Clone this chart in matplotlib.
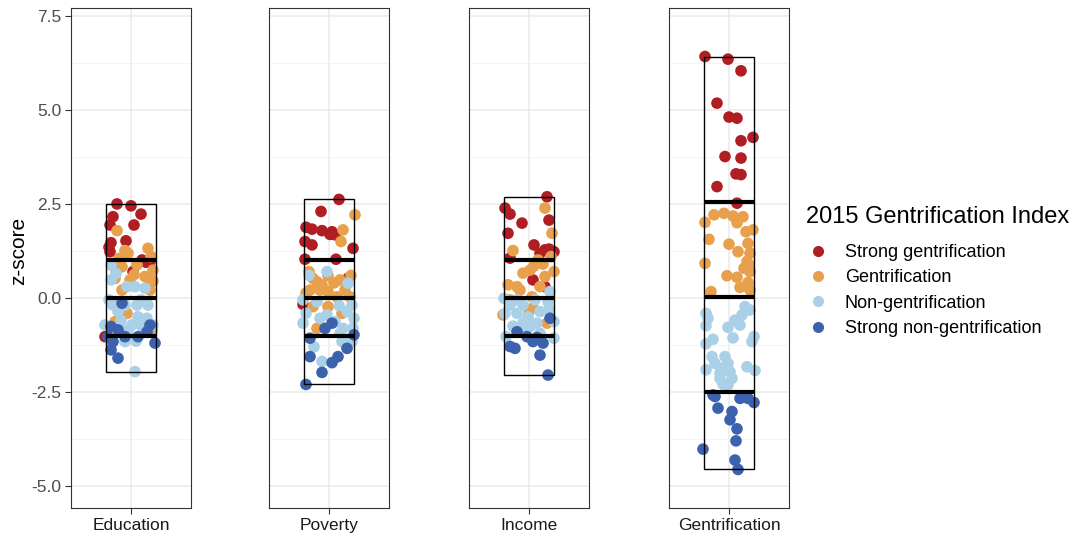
import matplotlib
matplotlib.use("Agg")
import matplotlib.pyplot as plt
from matplotlib.lines import Line2D
from matplotlib.patches import Rectangle

plt.rcParams['font.family'] = ['Liberation Sans', 'DejaVu Sans']

# ---------------- data: (jitter offset, z-score) ----------------
panels = ["Education", "Poverty", "Income", "Gentrification"]
groups = ["Strong gentrification", "Gentrification", "Non-gentrification", "Strong non-gentrification"]
colors = ["#B01E23", "#E8A04C", "#A9D0E6", "#3D62AD"]
legend_title = "2015 Gentrification Index"

edu_sg = [(-0.14, 2.50), (0.00, 2.45), (0.10, 2.23), (-0.18, 2.16), (-0.21, 1.94), (0.03, 1.94),
          (-0.05, 1.52), (-0.20, 1.47), (-0.21, 1.23), (0.11, 1.01), (0.19, 0.97), (0.02, 0.70),
          (-0.26, -1.03), (-0.22, 1.35), (0.15, 0.95)]
edu_g = [(-0.14, 1.79), (0.17, 1.32), (-0.06, 1.26), (-0.03, 1.19), (-0.17, 0.83), (-0.09, 0.83),
         (0.22, 0.74), (0.06, 0.88), (-0.16, 0.52), (-0.09, 0.21), (0.17, 0.30), (0.14, 0.57),
         (-0.01, 0.48), (0.19, 0.21), (-0.04, -0.41), (-0.16, -0.63), (0.21, -0.85),
         (0.20, 1.10), (-0.12, 1.05), (0.03, 0.62), (0.22, 0.45)]
edu_ng = [(-0.20, 0.88), (-0.20, 0.48), (0.04, 0.30), (-0.04, 0.30), (0.14, 0.26), (-0.18, -0.19),
          (-0.06, -0.19), (0.06, -0.19), (0.17, -0.19), (-0.13, -0.36), (0.07, -0.50), (0.16, -0.54),
          (-0.26, -0.72), (0.01, -0.72), (0.11, -0.76), (-0.09, -0.85), (-0.03, -0.85), (-0.20, -1.20),
          (-0.06, -1.16), (0.04, -1.96), (0.22, -0.72), (-0.22, -0.05), (0.10, -0.05), (-0.10, -0.60),
          (0.05, -1.15), (-0.15, 0.65)]
edu_sn = [(-0.09, -0.14), (-0.20, -0.76), (-0.13, -0.85), (0.19, -0.72), (-0.23, -1.03), (-0.18, -1.16),
          (-0.06, -1.03), (0.07, -1.03), (0.24, -1.20), (-0.20, -1.38), (-0.13, -1.60), (0.16, -0.90)]

pov_sg = [(0.10, 2.62), (-0.08, 2.30), (-0.23, 1.88), (-0.17, 1.83), (-0.07, 1.79), (0.03, 1.76),
          (0.01, 1.69), (0.06, 1.68), (-0.24, 1.50), (-0.17, 1.41), (0.24, 1.32), (-0.24, 1.03),
          (0.07, 1.03), (0.19, 0.52), (-0.26, -0.17)]
pov_g = [(0.26, 2.21), (0.14, 1.81), (0.12, 1.50), (-0.01, 0.59), (-0.16, 0.52), (-0.12, 0.43),
         (0.11, 0.48), (-0.19, 0.21), (-0.09, 0.21), (-0.01, 0.17), (0.16, 0.21), (0.21, 0.03),
         (0.08, 0.03), (-0.23, 0.13), (-0.16, -0.23), (-0.01, -0.23), (0.13, -0.41), (-0.12, -0.81),
         (-0.07, 0.35), (0.22, 0.60), (-0.20, 0.70), (0.05, 0.40)]
pov_ng = [(-0.02, 0.70), (0.19, 0.39), (-0.26, -0.05), (0.23, -0.19), (-0.23, -0.41), (0.18, -0.36),
          (0.25, -0.54), (-0.26, -0.67), (0.06, -0.63), (0.14, -0.81), (-0.09, -0.54), (0.13, -1.16),
          (0.23, -1.16), (-0.07, -1.69), (0.11, -0.94), (-0.02, -0.45), (-0.12, -0.10), (0.10, -0.20),
          (-0.20, 0.60), (0.24, -0.80), (-0.15, -1.30)]
pov_sn = [(-0.19, -1.07), (-0.04, -0.81), (0.03, -0.67), (0.25, -0.98), (0.18, -1.34), (-0.19, -1.56),
          (0.09, -1.56), (0.03, -1.72), (-0.07, -1.98), (-0.23, -2.30)]

inc_sg = [(0.18, 2.69), (-0.24, 2.39), (-0.19, 2.23), (-0.07, 1.99), (0.20, 2.07), (-0.21, 1.72),
          (0.05, 1.41), (0.16, 1.28), (0.25, 1.23), (-0.19, 1.06), (0.11, 1.19), (0.04, 0.48),
          (0.16, 0.30), (0.20, 1.30)]
inc_g = [(0.16, 2.39), (0.23, 1.72), (-0.16, 1.26), (0.09, 1.01), (0.01, 0.74), (0.25, 0.70),
         (-0.21, 0.35), (-0.09, 0.21), (0.11, 0.30), (0.03, 0.03), (-0.19, -0.05), (0.04, -0.27),
         (-0.26, -0.45), (0.18, -0.67), (0.16, 0.57), (-0.06, 0.66), (0.14, 0.90), (0.22, 1.10),
         (0.05, 0.85), (-0.12, 0.30), (0.00, -0.35)]
inc_ng = [(-0.25, -0.01), (-0.19, -0.19), (-0.06, -0.19), (0.21, 0.17), (0.19, -0.10), (-0.12, -0.41),
          (-0.01, -0.50), (0.11, -0.36), (-0.24, -0.41), (-0.06, -0.67), (0.08, -0.67), (0.25, -0.63),
          (-0.23, -1.03), (0.25, -1.07), (0.11, -0.94), (0.01, -0.76), (-0.12, -0.05), (0.06, -0.05),
          (-0.16, -0.75), (0.20, -0.30), (-0.03, -0.90)]
inc_sn = [(0.21, -0.54), (-0.12, -0.90), (-0.02, -1.03), (0.04, -1.16), (0.14, -1.20), (-0.14, -1.34),
          (-0.19, -1.29), (0.11, -1.52), (0.19, -2.05), (0.08, -1.05)]

gen_sg = [(-0.24, 6.42), (-0.01, 6.35), (0.12, 6.04), (-0.12, 5.18), (0.00, 4.81), (0.08, 4.78),
          (0.24, 4.27), (0.12, 4.18), (-0.04, 3.76), (0.12, 3.72), (0.07, 3.30), (0.12, 3.28),
          (-0.12, 2.96), (0.08, 2.52)]
gen_g = [(-0.24, 2.01), (-0.15, 2.21), (-0.05, 2.25), (0.04, 2.18), (0.14, 2.16), (0.08, 2.00),
         (0.17, 1.76), (0.24, 1.81), (-0.20, 1.56), (0.00, 1.43), (0.09, 1.23), (0.19, 1.45),
         (0.21, 1.19), (-0.24, 0.92), (0.18, 0.97), (0.15, 0.79), (-0.02, 0.59), (0.08, 0.55),
         (0.21, 0.70), (0.19, 0.41), (0.11, 0.28), (-0.18, 0.17), (0.21, 0.21), (0.20, 0.88)]
gen_ng = [(-0.23, -0.41), (-0.21, -0.54), (-0.23, -0.74), (0.16, -0.23), (0.21, -0.32), (0.13, -0.45),
          (0.06, -0.59), (0.11, -0.72), (-0.01, -0.78), (0.04, -1.06), (0.25, -1.03), (0.23, -1.16),
          (-0.16, -1.10), (-0.23, -1.22), (-0.17, -1.56), (-0.04, -1.56), (-0.01, -1.74), (-0.14, -1.74),
          (-0.23, -1.91), (-0.07, -1.87), (0.01, -1.96), (0.18, -1.83), (0.26, -1.93), (-0.09, -2.14),
          (0.03, -2.14), (-0.06, -2.29), (-0.01, -2.31), (-0.09, -2.00)]
gen_sn = [(-0.16, -2.58), (0.11, -2.67), (0.19, -2.67), (0.25, -2.78), (-0.11, -2.93), (0.03, -3.02),
          (0.01, -3.24), (0.08, -3.48), (0.07, -3.80), (-0.26, -4.02), (0.06, -4.31), (0.09, -4.56),
          (-0.14, -2.62)]

panel_points = [
    [edu_sg, edu_g, edu_ng, edu_sn],
    [pov_sg, pov_g, pov_ng, pov_sn],
    [inc_sg, inc_g, inc_ng, inc_sn],
    [gen_sg, gen_g, gen_ng, gen_sn],
]
cutoffs = [[-1.0, 0.0, 1.0], [-1.0, 0.0, 1.0], [-1.0, 0.0, 1.0], [-2.49, 0.03, 2.55]]

y_ticks = [-5.0, -2.5, 0.0, 2.5, 5.0, 7.5]

# ---------------- figure ----------------
W, H = 1084, 537
fig = plt.figure(figsize=(W / 100, H / 100), dpi=100)
fig.patch.set_facecolor("white")

panel_left_px = [71, 269, 469, 669]
panel_w_px = 120
top_px, bottom_px = 8, 508

half = 0.25
for i, name in enumerate(panels):
    ax = fig.add_axes([panel_left_px[i] / W, 1 - bottom_px / H, panel_w_px / W, (bottom_px - top_px) / H])
    ax.set_xlim(-0.6, 0.6)
    ax.set_ylim(-5.585, 7.71)
    ax.set_yticks(y_ticks)
    ax.set_yticks([-3.75, -1.25, 1.25, 3.75, 6.25], minor=True)
    ax.set_xticks([0])
    ax.set_xticklabels([name], fontsize=12.5, color="#1A1A1A")
    ax.grid(True, which="major", color="#EBEBEB", linewidth=1.1, zorder=0)
    ax.grid(True, which="minor", axis="y", color="#F2F2F2", linewidth=0.6, zorder=0)
    ax.set_axisbelow(True)
    for sp in ax.spines.values():
        sp.set_color("#333333")
        sp.set_linewidth(0.8)
    ax.tick_params(axis="x", length=4, width=0.8, color="#333333", pad=3)
    ax.tick_params(axis="y", which="minor", length=0)
    if i == 0:
        ax.set_yticklabels([f"{v:.1f}" for v in y_ticks], fontsize=12.5, color="#4D4D4D")
        ax.tick_params(axis="y", length=4, width=0.8, color="#333333", pad=3)
        ax.set_ylabel("z-score", fontsize=15)
        ax.yaxis.set_label_coords(-0.36, 0.515)
    else:
        ax.tick_params(axis="y", length=0, labelleft=False)

    all_y = []
    for g, pts in enumerate(panel_points[i]):
        xs = [p[0] for p in pts]
        ys = [p[1] for p in pts]
        all_y += ys
        ax.scatter(xs, ys, s=70, color=colors[g], edgecolors="none", zorder=3)

    ymin, ymax = min(all_y), max(all_y)
    ax.add_patch(Rectangle((-half, ymin), 2 * half, ymax - ymin, fill=False,
                           edgecolor="black", linewidth=1.0, zorder=4))
    for c in cutoffs[i]:
        ax.plot([-half, half], [c, c], color="black", linewidth=3.0, zorder=5,
                solid_capstyle="butt")

fig.text(806 / W, 1 - 217 / H, legend_title, fontsize=17, ha="left", va="center")
handles = [Line2D([0], [0], marker="o", linestyle="none", markersize=8,
                  markerfacecolor=c, markeredgecolor="none") for c in colors]
leg = fig.legend(handles, groups, loc="upper left", bbox_to_anchor=(806 / W, 1 - 244 / H),
                 frameon=False, fontsize=13, handlelength=1.3, handletextpad=0.85,
                 labelspacing=0.46, borderpad=0, borderaxespad=0)

fig.savefig("out.png", dpi=100, facecolor="white")
